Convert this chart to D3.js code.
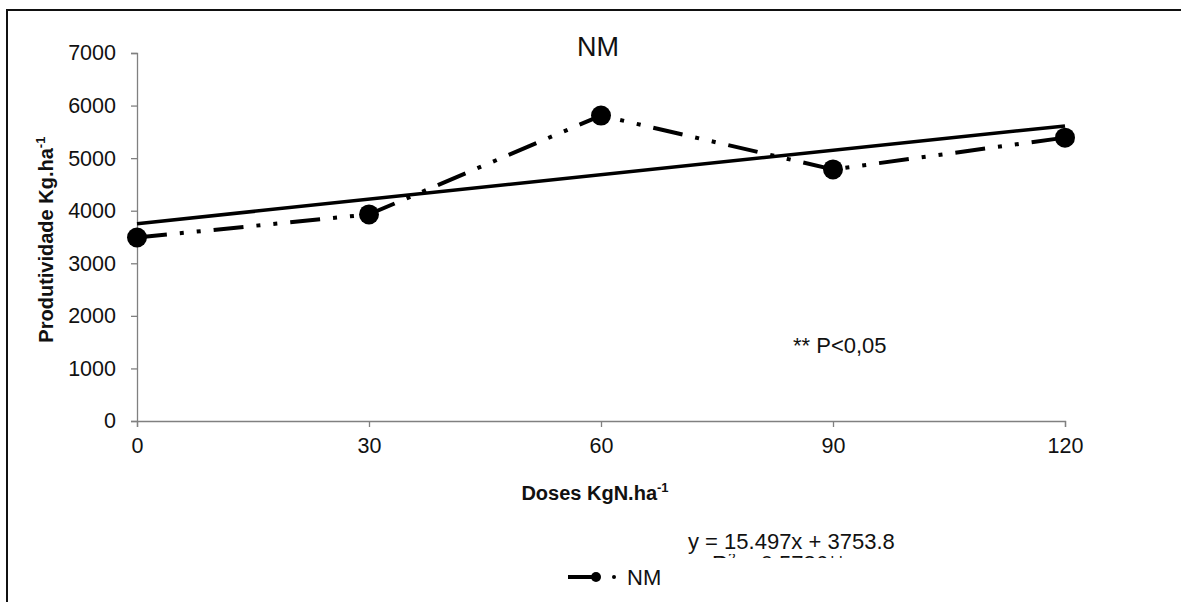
<!DOCTYPE html>
<html>
<head>
<meta charset="utf-8">
<script src="https://cdn.jsdelivr.net/npm/d3@7"></script>
<style>
  body { margin: 0; background: #fff; }
  svg { display: block; font-family: "Liberation Sans", Arial, sans-serif; }
</style>
</head>
<body>
<svg id="chart" width="1181" height="602"></svg>
<script>
// data
const doses = [0, 30, 60, 90, 120];
const yields = [3490, 3930, 5810, 4785, 5390];
const yTicks = [0, 1000, 2000, 3000, 4000, 5000, 6000, 7000];
const trend = { slope: 15.497, intercept: 3753.8 };

const svg = d3.select('#chart');

// outer frame (runs off the right and bottom edge)
svg.append('rect')
  .attr('x', 7).attr('y', 10)
  .attr('width', 1200).attr('height', 620)
  .attr('fill', 'none').attr('stroke', '#111').attr('stroke-width', 2);

const x = d3.scaleLinear().domain([0, 120]).range([137, 1065]);
const y = d3.scaleLinear().domain([0, 7000]).range([421, 53]);

// axes
const yAxis = svg.append('g')
  .attr('transform', `translate(${x(0)},0)`)
  .call(d3.axisLeft(y).tickValues(yTicks).tickSize(6).tickPadding(15).tickFormat(d3.format('d')));
const xAxis = svg.append('g')
  .attr('transform', `translate(0,${y(0)})`)
  .call(d3.axisBottom(x).tickValues(doses).tickSize(6).tickPadding(9));

[yAxis, xAxis].forEach(a => {
  a.attr('font-size', null);
  a.select('.domain').attr('stroke', '#808080').attr('stroke-width', 1.3);
  a.selectAll('.tick line').attr('stroke', '#808080').attr('stroke-width', 1.3);
  a.selectAll('.tick text')
    .attr('fill', '#111')
    .style('font-size', '21.5px')
    .style('font-family', '"Liberation Sans", Arial, sans-serif');
});
xAxis.selectAll('.tick text').attr('dy', '0.78em');

// title
svg.append('text')
  .attr('x', 598).attr('y', 56)
  .attr('text-anchor', 'middle')
  .style('font-size', '27px').attr('fill', '#111')
  .text('NM');

// axis titles
const yTitle = svg.append('text')
  .attr('transform', `translate(53,${y(3450)}) rotate(-90)`)
  .attr('text-anchor', 'middle')
  .style('font-size', '20px').style('font-weight', 'bold').attr('fill', '#111');
yTitle.append('tspan').text('Produtividade Kg.ha');
yTitle.append('tspan').attr('dy', -8).style('font-size', '13px').text('-1');

const xTitle = svg.append('text')
  .attr('x', 595).attr('y', 500)
  .attr('text-anchor', 'middle')
  .style('font-size', '20px').style('font-weight', 'bold').attr('fill', '#111');
xTitle.append('tspan').text('Doses KgN.ha');
xTitle.append('tspan').attr('dy', -8).style('font-size', '13px').text('-1');

// linear trend line
svg.append('line')
  .attr('x1', x(0)).attr('y1', y(trend.intercept))
  .attr('x2', x(120)).attr('y2', y(trend.intercept + trend.slope * 120))
  .attr('stroke', '#000').attr('stroke-width', 3.5);

// observed series, dash-dot-dot
const pts = doses.map((d, i) => [d, yields[i]]);
svg.append('path')
  .datum(pts)
  .attr('d', d3.line().x(d => x(d[0])).y(d => y(d[1])))
  .attr('fill', 'none').attr('stroke', '#000').attr('stroke-width', 4)
  .attr('stroke-dasharray', '30,13,4,13,4,13');

svg.selectAll('circle.pt')
  .data(pts)
  .enter().append('circle')
  .attr('class', 'pt')
  .attr('cx', d => x(d[0])).attr('cy', d => y(d[1]))
  .attr('r', 10).attr('fill', '#000');

// annotations
svg.append('text')
  .attr('x', 793).attr('y', 353)
  .style('font-size', '22px').attr('fill', '#111')
  .text('** P<0,05');

svg.append('text')
  .attr('x', 688).attr('y', 549)
  .style('font-size', '22px').attr('fill', '#111')
  .text('y = 15.497x + 3753.8');

// second equation line is cut off in the original
svg.append('clipPath').attr('id', 'eqclip')
  .append('rect').attr('x', 600).attr('y', 554).attr('width', 320).attr('height', 4);
const r2 = svg.append('text')
  .attr('x', 712).attr('y', 571)
  .attr('clip-path', 'url(#eqclip)')
  .style('font-size', '22px').attr('fill', '#111');
r2.append('tspan').text('R');
r2.append('tspan').attr('dy', -8).style('font-size', '14px').text('2');
r2.append('tspan').attr('dy', 8).text(' = 0.5736**');

// legend
const lg = svg.append('g').attr('transform', 'translate(568,577)');
lg.append('line').attr('x1', 0).attr('x2', 28).attr('y1', 0).attr('y2', 0)
  .attr('stroke', '#000').attr('stroke-width', 4);
lg.append('circle').attr('cx', 28).attr('cy', 0).attr('r', 5).attr('fill', '#000');
lg.append('circle').attr('cx', 46).attr('cy', 0).attr('r', 2).attr('fill', '#000');
lg.append('text').attr('x', 59).attr('y', 8)
  .style('font-size', '22px').attr('fill', '#111').text('NM');
</script>
</body>
</html>
